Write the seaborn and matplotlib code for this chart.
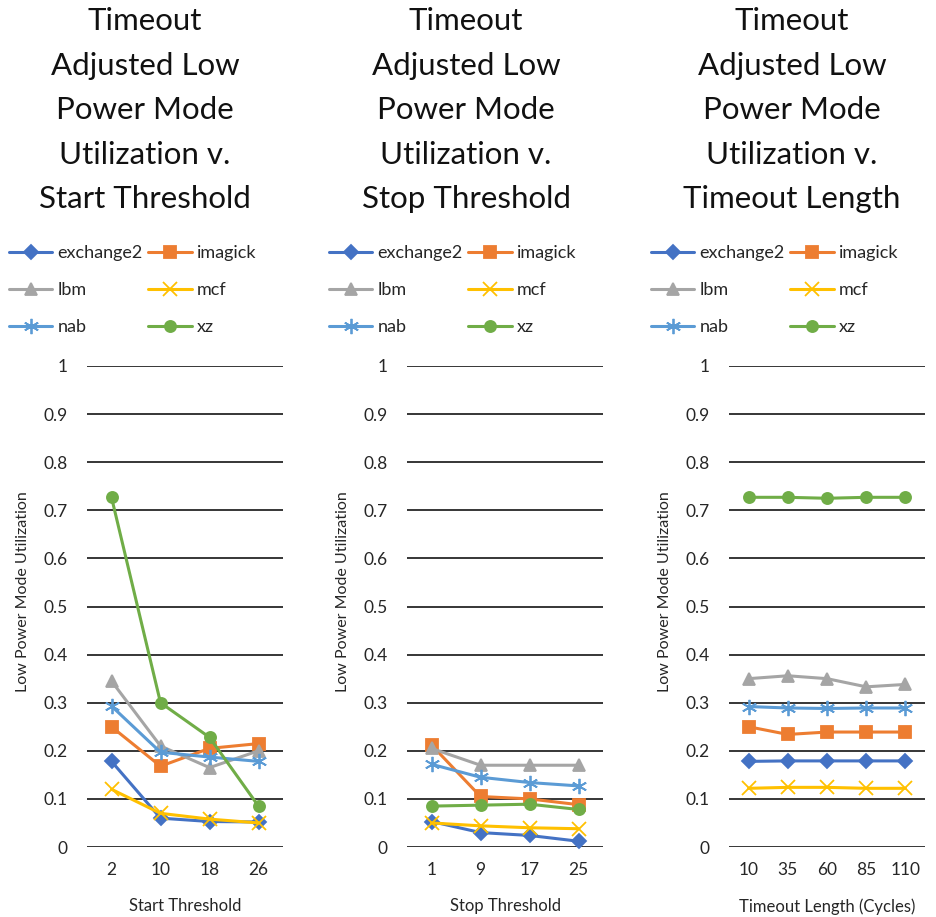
import pandas as pd
import matplotlib.pyplot as plt
import seaborn as sns

sns.set_style("white")
plt.rcParams["font.family"] = ["Lato", "DejaVu Sans"]

benches = ["exchange2", "imagick", "lbm", "mcf", "nab", "xz"]
colors = {"exchange2": "#4472C4", "imagick": "#ED7D31", "lbm": "#A5A5A5",
          "mcf": "#FFC000", "nab": "#5B9BD5", "xz": "#70AD47"}
markers = {"exchange2": "D", "imagick": "s", "lbm": "^", "mcf": "x",
           "nab": (6, 2, 0), "xz": "o"}
msizes = {"exchange2": 7, "imagick": 8, "lbm": 8, "mcf": 10, "nab": 11, "xz": 8}

# start threshold panel
start_x = ["2", "10", "18", "26"]
start_vals = {
    "exchange2": [0.178, 0.060, 0.053, 0.052],
    "imagick": [0.250, 0.168, 0.205, 0.215],
    "lbm": [0.345, 0.210, 0.165, 0.200],
    "mcf": [0.120, 0.070, 0.058, 0.050],
    "nab": [0.293, 0.197, 0.187, 0.178],
    "xz": [0.727, 0.300, 0.228, 0.085],
}

# stop threshold panel
stop_x = ["1", "9", "17", "25"]
stop_vals = {
    "exchange2": [0.053, 0.030, 0.024, 0.012],
    "imagick": [0.212, 0.105, 0.100, 0.088],
    "lbm": [0.205, 0.170, 0.170, 0.170],
    "mcf": [0.050, 0.044, 0.040, 0.038],
    "nab": [0.172, 0.145, 0.134, 0.127],
    "xz": [0.085, 0.087, 0.089, 0.078],
}

# timeout length panel
timeout_x = ["10", "35", "60", "85", "110"]
timeout_vals = {
    "exchange2": [0.178, 0.179, 0.179, 0.179, 0.179],
    "imagick": [0.250, 0.234, 0.239, 0.239, 0.239],
    "lbm": [0.350, 0.356, 0.350, 0.333, 0.338],
    "mcf": [0.122, 0.124, 0.124, 0.122, 0.122],
    "nab": [0.292, 0.289, 0.288, 0.289, 0.289],
    "xz": [0.727, 0.727, 0.725, 0.727, 0.727],
}

panels = [
    (start_x, start_vals, "Timeout\nAdjusted Low\nPower Mode\nUtilization v.\nStart Threshold", "Start Threshold", 87, 145),
    (stop_x, stop_vals, "Timeout\nAdjusted Low\nPower Mode\nUtilization v.\nStop Threshold", "Stop Threshold", 407, 466),
    (timeout_x, timeout_vals, "Timeout\nAdjusted Low\nPower Mode\nUtilization v.\nTimeout Length", "Timeout Length (Cycles)", 729, 792),
]

W, H = 936, 917
fig = plt.figure(figsize=(W / 100, H / 100), dpi=100)

for xs, vals, title, xlabel, left, tcenter in panels:
    ax = fig.add_axes([left / W, 1 - 847 / H, 196 / W, 481 / H])
    rows = []
    for b in benches:
        for x, v in zip(xs, vals[b]):
            rows.append({"x": x, "val": v, "bench": b})
    df = pd.DataFrame(rows)
    for b in benches:
        sub = df[df.bench == b]
        sns.lineplot(data=sub, x="x", y="val", ax=ax, color=colors[b], marker=markers[b],
                     markersize=msizes[b], markeredgecolor=colors[b], markeredgewidth=1.3,
                     linewidth=2.2, label=b, sort=False)
    ax.set_xlim(-0.5, len(xs) - 0.5)
    ax.set_ylim(0, 1.0)
    ax.set_yticks([i / 10 for i in range(11)])
    ax.set_yticklabels(["0", "0.1", "0.2", "0.3", "0.4", "0.5", "0.6", "0.7", "0.8", "0.9", "1"])
    ax.yaxis.grid(True, color="#262626", linewidth=1.3)
    ax.set_axisbelow(True)
    ax.xaxis.grid(False)
    for s in ax.spines.values():
        s.set_visible(False)
    ax.tick_params(axis="y", length=0, pad=14, labelsize=12.5, colors="#262626")
    ax.tick_params(axis="x", length=0, pad=11, labelsize=12.5, colors="#262626")
    ax.set_xlabel(xlabel, fontsize=12, color="#262626")
    ax.set_ylabel("Low Power Mode Utilization", fontsize=11.5, color="#262626")
    ax.xaxis.set_label_coords(0.5, -0.106)
    ax.yaxis.set_label_coords(-0.29, 0.53)
    for ln in ax.lines:
        ln.set_clip_on(False)

    handles, labels = ax.get_legend_handles_labels()
    ax.get_legend().remove()
    order = [0, 2, 4, 1, 3, 5]
    fig.legend([handles[i] for i in order], [labels[i] for i in order], ncol=2,
               loc="upper left", bbox_to_anchor=((left - 78) / W, 1 - 245 / H),
               frameon=False, fontsize=13, handlelength=2.4, handletextpad=0.3,
               columnspacing=0.3, labelspacing=1.17, borderpad=0, borderaxespad=0)

    fig.text(tcenter / W, 1 - 7 / H, title, ha="center", va="top", fontsize=22.5,
             linespacing=1.72, color="#111111")

fig.savefig("out.png", dpi=100)
